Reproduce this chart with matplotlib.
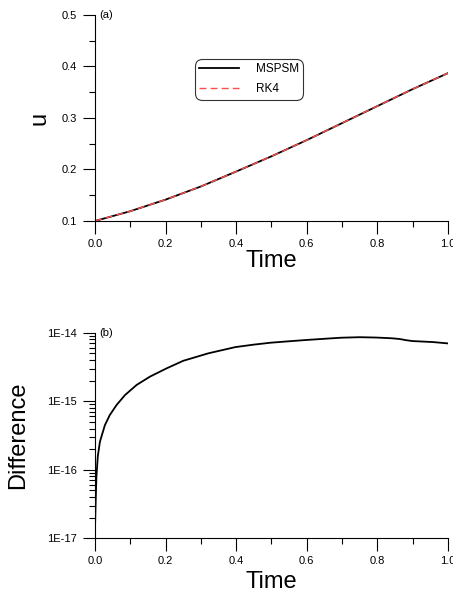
import numpy as np
import matplotlib
matplotlib.use("Agg")
import matplotlib.pyplot as plt
from matplotlib.ticker import MultipleLocator, LogLocator, FixedLocator, NullFormatter

plt.rcParams['font.family'] = ['Liberation Sans', 'DejaVu Sans']

# Panel (a): solution u(t)
t_a = [0.0, 0.1, 0.2, 0.3, 0.4, 0.5, 0.6, 0.7, 0.8, 0.9, 1.0]
u_mspsm = [0.100, 0.119, 0.1415, 0.167, 0.196, 0.2256, 0.257, 0.290, 0.323, 0.356, 0.387]
u_rk4 = [0.100, 0.119, 0.1415, 0.167, 0.196, 0.2256, 0.257, 0.290, 0.323, 0.356, 0.387]

# Panel (b): difference between MSPSM and RK4
t_b = [0.0, 0.002, 0.004, 0.008, 0.014, 0.028, 0.042, 0.061, 0.085, 0.118, 0.156,
       0.203, 0.25, 0.321, 0.398, 0.45, 0.497, 0.55, 0.597, 0.65, 0.697, 0.75,
       0.797, 0.84, 0.863, 0.88, 0.9, 0.958, 1.0]
diff = [1.41e-17, 3.55e-17, 7.9e-17, 1.58e-16, 2.57e-16, 4.47e-16, 6.3e-16, 8.8e-16,
        1.23e-15, 1.73e-15, 2.29e-15, 3.02e-15, 3.89e-15, 5.0e-15, 6.17e-15, 6.7e-15,
        7.14e-15, 7.5e-15, 7.82e-15, 8.15e-15, 8.45e-15, 8.6e-15, 8.5e-15, 8.3e-15,
        8.1e-15, 7.8e-15, 7.55e-15, 7.3e-15, 6.98e-15]

fig = plt.figure(figsize=(4.53, 5.92), dpi=100)

def style(ax):
    ax.spines['top'].set_visible(False)
    ax.spines['right'].set_visible(False)
    for s in ('left', 'bottom'):
        ax.spines[s].set_linewidth(0.8)
    ax.tick_params(which='major', direction='out', length=9, width=0.8, labelsize=8, pad=4)
    ax.tick_params(which='minor', direction='out', length=4.5, width=0.8)
    ax.set_xlim(0, 1.0)
    ax.xaxis.set_major_locator(MultipleLocator(0.2))
    ax.xaxis.set_minor_locator(MultipleLocator(0.1))
    ax.xaxis.set_major_formatter(matplotlib.ticker.FormatStrFormatter('%.1f'))

ax1 = fig.add_axes([0.2097, 0.6267, 0.779, 0.348])
style(ax1)
ax1.plot(t_a, u_mspsm, color='black', lw=1.3, label='MSPSM')
ax1.plot(t_a, u_rk4, color='#ff4d4d', lw=1.0, dashes=(5, 3), label='RK4')
ax1.set_ylim(0.1, 0.5)
ax1.yaxis.set_major_locator(MultipleLocator(0.1))
ax1.yaxis.set_minor_locator(MultipleLocator(0.05))
ax1.yaxis.set_major_formatter(matplotlib.ticker.FormatStrFormatter('%.1f'))
ax1.set_xlabel('Time', fontsize=17, labelpad=1)
ax1.set_ylabel('u', fontsize=17, labelpad=8)
ax1.text(0.012, 0.5, '(a)', fontsize=8, va='center', ha='left', transform=ax1.transData)
leg = ax1.legend(loc='upper left', bbox_to_anchor=(0.283, 0.786), fontsize=8.5,
                 frameon=True, fancybox=True, edgecolor='black', handlelength=3.4,
                 handletextpad=1.4, borderpad=0.35, labelspacing=0.7, borderaxespad=0)
leg.get_frame().set_linewidth(0.8)
leg.get_frame().set_boxstyle('round', pad=0, rounding_size=0.6)

ax2 = fig.add_axes([0.2097, 0.0907, 0.779, 0.3473])
style(ax2)
ax2.set_yscale('log')
ax2.plot(t_b, diff, color='black', lw=1.3)
ax2.set_ylim(1e-17, 1e-14)
ax2.yaxis.set_major_locator(FixedLocator([1e-17, 1e-16, 1e-15, 1e-14]))
ax2.yaxis.set_minor_locator(LogLocator(base=10, subs=np.arange(2, 10)))
ax2.yaxis.set_minor_formatter(NullFormatter())
ax2.set_yticklabels(['1E-17', '1E-16', '1E-15', '1E-14'])
ax2.set_xlabel('Time', fontsize=17, labelpad=3)
ax2.set_ylabel('Difference', fontsize=17, labelpad=13)
ax2.text(0.012, 1e-14, '(b)', fontsize=8, va='center', ha='left', transform=ax2.transData)

fig.savefig('out.png', dpi=100)
